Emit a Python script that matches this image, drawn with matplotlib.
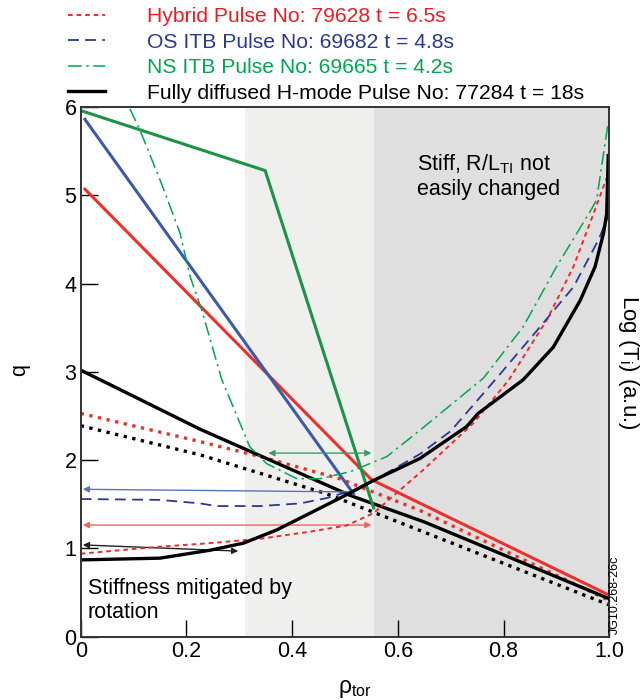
import matplotlib
matplotlib.use("Agg")
import matplotlib.pyplot as plt

plt.rcParams['font.family'] = ['Liberation Sans', 'DejaVu Sans']
plt.rcParams['mathtext.fontset'] = 'custom'
plt.rcParams['mathtext.rm'] = 'Liberation Sans'
plt.rcParams['mathtext.it'] = 'Liberation Sans:italic'

# q profiles (left axis)
rho_q_hyb = [0.008, 0.55, 1.0]
q_hyb = [5.07, 1.78, 0.47]
rho_q_os = [0.008, 0.516]
q_os = [5.86, 1.62]
rho_q_ns = [0.0, 0.349, 0.554]
q_ns = [5.96, 5.28, 1.46]
rho_q_hm = [0.0, 0.226, 0.51, 0.65, 1.0]
q_hm = [3.02, 2.35, 1.60, 1.30, 0.43]
# dotted q profiles
rho_qd_hyb = [0.0, 0.226, 0.34, 0.49, 0.642, 1.0]
qd_hyb = [2.53, 2.21, 2.04, 1.79, 1.43, 0.41]
rho_qd_hm = [0.0, 0.226, 0.465, 0.554, 1.0]
qd_hm = [2.39, 2.06, 1.62, 1.41, 0.36]

# log(Ti) profiles (right axis, arbitrary units)
rho_ti_hyb = [0.0, 0.15, 0.245, 0.34, 0.434, 0.503, 0.554, 0.648, 0.743, 0.81, 0.882, 0.932, 0.97, 0.997]
ti_hyb = [0.94, 1.02, 1.06, 1.11, 1.19, 1.26, 1.40, 1.89, 2.42, 2.91, 3.59, 4.19, 4.79, 5.23]
rho_ti_os = [0.0, 0.15, 0.226, 0.257, 0.34, 0.415, 0.465, 0.516, 0.554, 0.642, 0.7, 0.787, 0.869, 0.932, 0.979, 0.998]
ti_os = [1.56, 1.55, 1.51, 1.48, 1.48, 1.51, 1.57, 1.66, 1.77, 2.07, 2.33, 2.93, 3.51, 3.96, 4.49, 4.76]
rho_ti_ns = [0.093, 0.112, 0.153, 0.188, 0.207, 0.229, 0.267, 0.32, 0.352, 0.409, 0.453, 0.51, 0.579, 0.642, 0.762, 0.837, 0.9, 0.967, 0.976, 0.998]
ti_ns = [5.98, 5.74, 5.13, 4.57, 4.08, 3.70, 2.91, 2.15, 1.96, 1.79, 1.79, 1.87, 2.04, 2.34, 2.93, 3.51, 4.19, 4.85, 4.95, 5.83]
rho_ti_hm = [0.0, 0.15, 0.245, 0.308, 0.371, 0.434, 0.497, 0.554, 0.642, 0.73, 0.752, 0.837, 0.894, 0.945, 0.973, 0.989, 0.995, 0.998]
ti_hm = [0.87, 0.89, 0.98, 1.06, 1.21, 1.40, 1.59, 1.77, 2.02, 2.38, 2.53, 2.91, 3.28, 3.81, 4.19, 4.57, 4.79, 5.45]

labels = ["Hybrid Pulse No: 79628 t = 6.5s",
          "OS ITB Pulse No: 69682 t = 4.8s",
          "NS ITB Pulse No: 69665 t = 4.2s",
          "Fully diffused H-mode Pulse No: 77284 t = 18s"]

# arrows: (x_start, y_start, x_end, y_end, style, colour)
arrows = [(0.355, 2.08, 0.55, 2.08, '<|-|>', '#3a9e60'),
          (0.515, 1.64, 0.004, 1.67, '-|>', '#5a74b8'),
          (0.004, 1.265, 0.55, 1.265, '<|-|>', '#f0645c'),
          (0.004, 1.04, 0.298, 0.97, '<|-|>', '#222222')]

red = '#e8322b'
blue = '#3d5aa8'
navy = '#2b3990'
green = '#1a9446'
green2 = '#00a650'
fs = 15.5

fig = plt.figure(figsize=(6.43, 7.0), dpi=100)
ax = fig.add_axes([0.1255, 0.0904, 0.8221, 0.7567])

ax.axvspan(0.31, 0.555, color='#efefee', lw=0, zorder=0)
ax.axvspan(0.555, 1.0, color='#dfdfdf', lw=0, zorder=0)

ax.plot(rho_qd_hyb, qd_hyb, ':', color=red, lw=2.4)
ax.plot(rho_qd_hm, qd_hm, ':', color='black', lw=2.4)
ax.plot(rho_q_hm, q_hm, '-', color='black', lw=2.4)
ax.plot(rho_q_hyb, q_hyb, '-', color=red, lw=2.2)
ax.plot(rho_q_os, q_os, '-', color=blue, lw=2.2)
ax.plot(rho_q_ns, q_ns, '-', color=green, lw=2.2)

for x0, y0, x1, y1, st, c in arrows:
    ax.annotate('', xy=(x1, y1), xytext=(x0, y0),
                arrowprops=dict(arrowstyle=st, color=c, lw=1.0,
                                mutation_scale=9, shrinkA=0, shrinkB=0))

ax2 = ax.twinx()
h1, = ax2.plot(rho_ti_hyb, ti_hyb, color='#ee2a2a', lw=1.4, dashes=(2.4, 2.0))
h2, = ax2.plot(rho_ti_os, ti_os, color=navy, lw=1.3, dashes=(6, 3.5))
h3, = ax2.plot(rho_ti_ns, ti_ns, color=green2, lw=1.1, dashes=(9, 3, 1.5, 3))
h4, = ax2.plot(rho_ti_hm, ti_hm, color='black', lw=2.4)
ax2.set_ylim(0, 6)
ax2.set_yticks([])

ax.set_xlim(0, 1.0)
ax.set_ylim(0, 6)
ax.set_xticks([0, 0.2, 0.4, 0.6, 0.8, 1.0])
ax.set_xticklabels(['0', '0.2', '0.4', '0.6', '0.8', '1.0'])
ax.set_yticks(range(7))
ax.tick_params(direction='in', length=12, width=1, labelsize=fs, pad=3,
               top=False, right=False)
for a in (ax, ax2):
    for s in a.spines.values():
        s.set_linewidth(1.2)
        s.set_color('#333333')

ax.text(0.013, 0.41, "Stiffness mitigated by\nrotation", fontsize=fs,
        va='center', ha='left', linespacing=1.2)
ax.text(0.636, 5.22, "Stiff, R/L$_\\mathrm{TI}$ not\neasily changed", fontsize=fs,
        va='center', ha='left', linespacing=1.2)

fig.text(20 / 643, 1 - 370 / 700, "q", fontsize=fs, rotation=90,
         ha='center', va='center')
fig.text(628 / 643, 1 - 362 / 700, "Log (T$_\\mathrm{i}$) (a.u.)", fontsize=fs + 0.5,
         rotation=270, ha='center', va='center')
fig.text(355 / 643, 1 - 688 / 700, "ρ$_\\mathrm{tor}$", fontsize=fs + 1,
         ha='center', va='center')
fig.text(615 / 643, 1 - 595 / 700, "JG10.268-26c", fontsize=9, rotation=90,
         ha='center', va='center')

leg = fig.legend([h1, h2, h3, h4], labels, loc='upper left',
                 bbox_to_anchor=(0.106, 0.99), frameon=False, fontsize=15.2,
                 handlelength=1.75, handletextpad=1.98, labelspacing=0.31,
                 borderpad=0, borderaxespad=0)
for t, c in zip(leg.get_texts(), ['#ed1c24', navy, green2, 'black']):
    t.set_color(c)

fig.savefig("out.png", dpi=100)
